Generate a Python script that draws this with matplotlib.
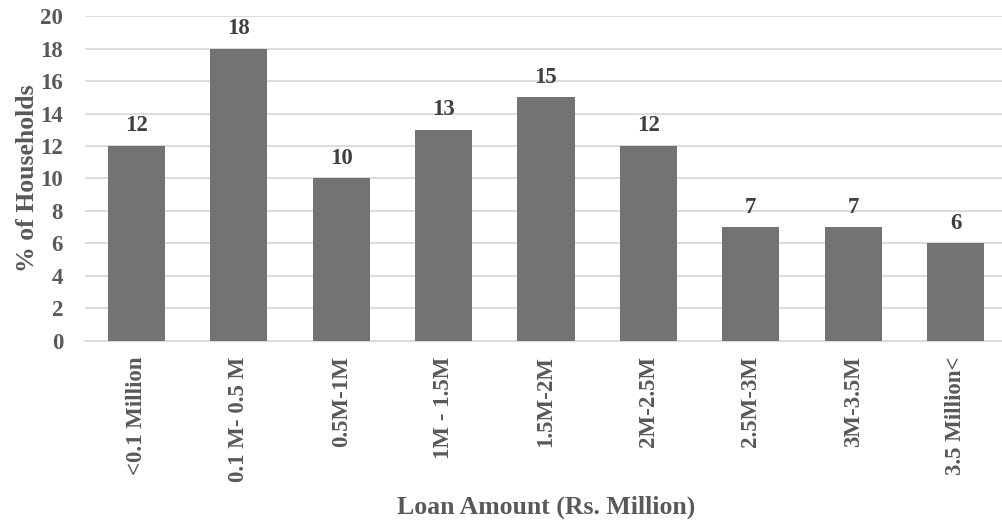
import matplotlib
matplotlib.use("Agg")
import matplotlib.pyplot as plt

categories = ["<0.1 Million", "0.1 M- 0.5 M", "0.5M-1M", "1M - 1.5M", "1.5M-2M",
              "2M-2.5M", "2.5M-3M", "3M-3.5M", "3.5 Million<"]
households_pct = [12, 18, 10, 13, 15, 12, 7, 7, 6]
y_ticks = list(range(0, 21, 2))

plt.rcParams["font.family"] = ["Liberation Serif", "DejaVu Serif"]
plt.rcParams["font.weight"] = "bold"

text_color = "#595959"
bar_color = "#737373"
grid_color = "#d9d9d9"

fig = plt.figure(figsize=(10.02, 5.23), dpi=100)
ax = fig.add_axes([0.0851, 0.348, 0.9196, 0.6214])

x = range(len(categories))
ax.bar(x, households_pct, width=0.557, color=bar_color, zorder=3)

for xi, v in zip(x, households_pct):
    ax.annotate(f"{v}", (xi, v), xytext=(0, 7), textcoords="offset points",
                ha="center", va="bottom", fontsize=16.5, fontweight="bold",
                color="#404040")

ax.set_xlim(-0.5, len(categories) - 0.5)
ax.set_ylim(0, 20)
ax.set_yticks(y_ticks)
ax.yaxis.grid(True, color=grid_color, linewidth=1.3, zorder=0)
ax.set_axisbelow(True)

for s in ["top", "right", "left"]:
    ax.spines[s].set_visible(False)
ax.spines["bottom"].set_color(grid_color)
ax.spines["bottom"].set_linewidth(1.3)

ax.tick_params(axis="both", length=0, colors=text_color, labelsize=16.5)
ax.tick_params(axis="y", pad=16)
ax.tick_params(axis="x", pad=11)
ax.set_xticks(list(x))
ax.set_xticklabels(categories, rotation=90, fontweight="bold", fontsize=16.5)
for lbl in ax.get_yticklabels():
    lbl.set_fontweight("bold")

ax.set_ylabel("% of Households", fontsize=18.5, fontweight="bold",
              color=text_color, labelpad=1)
ax.set_xlabel("Loan Amount (Rs. Million)", fontsize=18.5, fontweight="bold",
              color=text_color, labelpad=10)

fig.savefig("out.png", dpi=100)
